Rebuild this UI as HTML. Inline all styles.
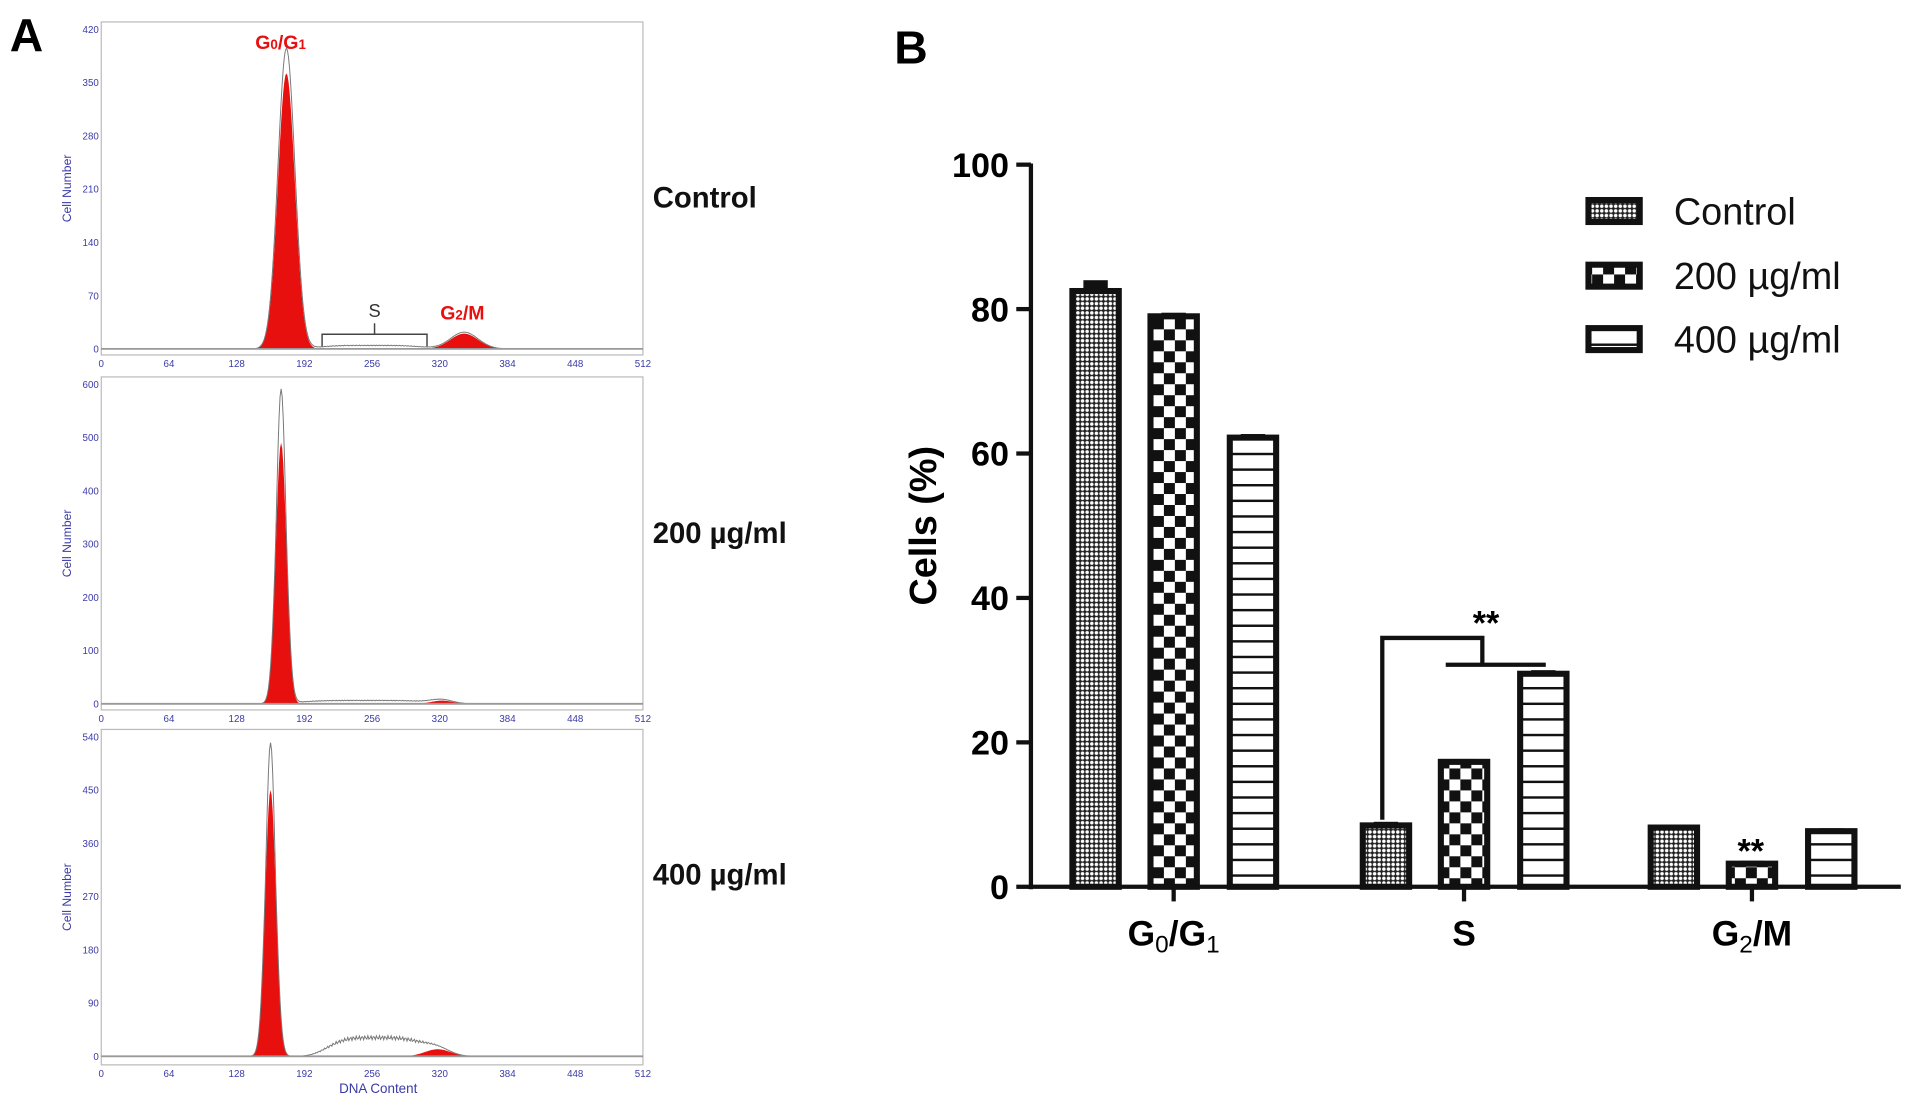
<!DOCTYPE html>
<html><head><meta charset="utf-8">
<style>
html,body{margin:0;padding:0;background:#fff;}
svg{display:block;}
</style></head>
<body>
<svg id="fig" width="1913" height="1110" viewBox="0 0 1568 910" preserveAspectRatio="none" xmlns="http://www.w3.org/2000/svg">
<defs>
  <pattern id="pCtrl" width="3.8" height="3.8" patternUnits="userSpaceOnUse">
    <rect width="3.8" height="3.8" fill="#222"/>
    <circle cx="1.9" cy="1.9" r="1.45" fill="#fff"/>
  </pattern>
  <pattern id="p200" width="18" height="18" patternUnits="userSpaceOnUse">
    <rect width="18" height="18" fill="#fff"/>
    <rect width="9" height="9" fill="#111"/>
    <rect x="9" y="9" width="9" height="9" fill="#111"/>
  </pattern>
  <pattern id="p400" width="10" height="12.8" patternUnits="userSpaceOnUse">
    <rect width="10" height="12.8" fill="#fff"/>
    <rect y="0" width="10" height="2" fill="#111"/>
  </pattern>
</defs>
<g id="panelA"></g>
<g id="panelB"></g>
</svg>
<script>
// ---------- Panel B data ----------
const categories = ["G0/G1", "S", "G2/M"];
const seriesNames = ["Control", "200 µg/ml", "400 µg/ml"];
const controlValues = [82.5, 8.5, 8.2];
const dose200Values = [79.0, 17.3, 3.2];
const dose400Values = [62.2, 29.5, 7.7];
const controlErr = [1.5, 0.5, 0.4];
const dose200Err = [0.5, 0.4, 0.4];
const dose400Err = [0.5, 0.5, 0.4];
const yTicks = [0, 20, 40, 60, 80, 100];

// ---------- Panel A data (histogram peaks: [DNA position, height, sigma]) ----------
const histLabels = ["Control", "200 µg/ml", "400 µg/ml"];
const histYMax = [420, 600, 540];
const histYStep = [70, 100, 90];
const g1Peaks = [[175, 362, 8], [170, 490, 5], [160, 450, 5]];
const g1Outline = [[175, 395, 8], [170, 590, 4.5], [160, 530, 4.5]];
const g2Peaks = [[343, 20, 13], [322, 6, 10], [318, 12, 12]];
const sPhase = [[255, 5, 55], [250, 7, 70], [260, 35, 50]];
const xTicksA = [0, 64, 128, 192, 256, 320, 384, 448, 512];

const NS = "http://www.w3.org/2000/svg";
function mk(tag, attrs, parent, text) {
  const e = document.createElementNS(NS, tag);
  for (const k in attrs) e.setAttribute(k, attrs[k]);
  if (text !== undefined) e.textContent = text;
  parent.appendChild(e);
  return e;
}

// ================= PANEL B =================
const B = document.getElementById('panelB');
const axX = 845, axY0 = 727, axY100 = 135, axRight = 1558;
const yScale = v => axY0 - (axY0 - axY100) * v / 100;
const groupCenters = [962, 1200, 1436];
const barOffsets = [-64, 0, 65];
const barW = 38;
const fills = ["url(#pCtrl)", "url(#p200)", "url(#p400)"];
const allVals = [controlValues, dose200Values, dose400Values];
const allErr = [controlErr, dose200Err, dose400Err];

let t = mk('text', {x: 733, y: 52, 'font-family': 'Liberation Sans, sans-serif', 'font-weight': 'bold', 'font-size': 38}, B, 'B');



allVals.forEach((vals, s) => {
  vals.forEach((v, c) => {
    const cx = groupCenters[c] + barOffsets[s];
    const top = yScale(v);
    const eTop = yScale(v + allErr[s][c]);
    const eb = mk('rect', {x: cx - 10, y: eTop, width: 20, height: Math.max(top - eTop + 2, 3), fill: '#111'}, B);
    
    
    const r = mk('rect', {x: cx - barW / 2, y: top, width: barW, height: axY0 - top, fill: fills[s], stroke: '#111', 'stroke-width': 5}, B);
    
    
  });
});

let a = mk('line', {x1: axX, y1: axY100 - 1, x2: axX, y2: axY0 + 2, stroke: '#111', 'stroke-width': 3.5}, B);


a = mk('line', {x1: axX - 2, y1: axY0, x2: axRight, y2: axY0, stroke: '#111', 'stroke-width': 3.5}, B);


yTicks.forEach(v => {
  const y = yScale(v);
  const l = mk('line', {x1: axX - 12, y1: y, x2: axX, y2: y, stroke: '#111', 'stroke-width': 3.5}, B);
  
  
  const tt = mk('text', {x: axX - 18, y: y + 10, 'text-anchor': 'end', 'font-family': 'Liberation Sans, sans-serif', 'font-weight': 'bold', 'font-size': 28}, B, String(v));
  
  
});
const catHtml = [["G", "0", "/G", "1"], ["S"], ["G", "2", "/M"]];
groupCenters.forEach((cx, i) => {
  const l = mk('line', {x1: cx, y1: axY0, x2: cx, y2: axY0 + 12, stroke: '#111', 'stroke-width': 3.5}, B);
  
  
  const tx = mk('text', {x: cx, y: 775, 'text-anchor': 'middle', 'font-family': 'Liberation Sans, sans-serif', 'font-weight': 'bold', 'font-size': 29}, B);
  
  
  catHtml[i].forEach((p, j) => {
    const sub = (j % 2 === 1);
    mk('tspan', sub ? {'font-size': 20, dy: 6, 'font-weight': 'normal'} : (j > 0 ? {dy: -6} : {}), tx, p);
  });
});
t = mk('text', {x: 0, y: 0, transform: 'translate(767,431) rotate(-90)', 'text-anchor': 'middle', 'font-family': 'Liberation Sans, sans-serif', 'font-weight': 'bold', 'font-size': 31}, B, 'Cells (%)');



const sig = mk('path', {d: 'M1133 672 V523 H1215 V545 M1185 545 H1267', fill: 'none', stroke: '#111', 'stroke-width': 3.5}, B);


t = mk('text', {x: 1218, y: 520, 'text-anchor': 'middle', 'font-family': 'Liberation Sans, sans-serif', 'font-weight': 'bold', 'font-size': 28}, B, '**');


t = mk('text', {x: 1435, y: 707, 'text-anchor': 'middle', 'font-family': 'Liberation Sans, sans-serif', 'font-weight': 'bold', 'font-size': 28}, B, '**');



const legY = [173, 226, 278];
seriesNames.forEach((n, i) => {
  const r = mk('rect', {x: 1302, y: legY[i] - 9, width: 42, height: 18, fill: fills[i], stroke: '#111', 'stroke-width': 5}, B);
  
  
  const tx = mk('text', {x: 1372, y: legY[i] + 11, 'font-family': 'Liberation Sans, sans-serif', 'font-size': 31, fill: '#111'}, B, n);
  
  
});

// ================= PANEL A =================
const A = document.getElementById('panelA');
t = mk('text', {x: 8, y: 42, 'font-family': 'Liberation Sans, sans-serif', 'font-weight': 'bold', 'font-size': 38}, A, 'A');


const boxes = [[18, 291, 286], [309, 582, 577], [598, 873, 866]];
const pxL = 83, pxR = 527;
const gauss = (x, p) => p[1] * Math.exp(-0.5 * Math.pow((x - p[0]) / p[2], 2));
const plateau = (x, p) => p[1] * Math.exp(-Math.pow((x - p[0]) / p[2], 4));
const labelY = [170, 445, 725];
boxes.forEach((b, i) => {
  const [top, bot, base] = b;
  const xs = v => pxL + (pxR - pxL) * v / 512;
  const ys = v => base - (base - top - 6) * v / histYMax[i];
  const g = mk('g', {}, A);
  
  
  const bx = mk('rect', {x: pxL, y: top, width: pxR - pxL, height: bot - top, fill: '#fff', stroke: '#bbb', 'stroke-width': 1}, g);
  
  
  let d = 'M' + xs(0) + ' ' + base;
  let d2 = 'M' + xs(0) + ' ' + base;
  let d3 = 'M' + xs(0) + ' ' + base;
  for (let x = 0; x <= 512; x += 1) {
    d += ' L' + xs(x).toFixed(2) + ' ' + ys(gauss(x, g1Peaks[i])).toFixed(2);
    d2 += ' L' + xs(x).toFixed(2) + ' ' + ys(gauss(x, g2Peaks[i])).toFixed(2);
    const sv = plateau(x, sPhase[i]) * (0.9 + 0.1 * Math.sin(x * 2.3));
    const tot = Math.max(gauss(x, g1Outline[i]), gauss(x, g1Peaks[i]) * 1.05) + gauss(x, g2Peaks[i]) * 1.1 + sv;
    d3 += ' L' + xs(x).toFixed(2) + ' ' + ys(tot).toFixed(2);
  }
  d += ' Z'; d2 += ' Z';
  let p = mk('path', {d: d, fill: '#e8100f'}, g);
  
  
  p = mk('path', {d: d2, fill: '#e8100f'}, g);
  
  
  p = mk('path', {d: d3, fill: 'none', stroke: '#777', 'stroke-width': 0.8}, g);
  
  
  const bl = mk('line', {x1: pxL, y1: base, x2: pxR, y2: base, stroke: '#999', 'stroke-width': 1.5}, g);
  
  
  for (let v = 0; v <= histYMax[i]; v += histYStep[i]) {
    const ty = mk('text', {x: pxL - 2, y: ys(v) + 3, 'text-anchor': 'end', 'font-family': 'Liberation Sans, sans-serif', 'font-size': 8, fill: '#3a3aa8'}, g, String(v));
    
    
  }
  xTicksA.forEach(v => {
    const tx = mk('text', {x: xs(v), y: bot + 10, 'text-anchor': 'middle', 'font-family': 'Liberation Sans, sans-serif', 'font-size': 8, fill: '#3a3aa8'}, g, String(v));
    
    
  });
  const yt = mk('text', {x: 0, y: 0, transform: 'translate(58,' + ((top + bot) / 2) + ') rotate(-90)', 'text-anchor': 'middle', 'font-family': 'Liberation Sans, sans-serif', 'font-size': 10, fill: '#3a3aa8'}, g, 'Cell Number');
  
  
  const lb = mk('text', {x: 535, y: labelY[i], 'font-family': 'Liberation Sans, sans-serif', 'font-weight': 'bold', 'font-size': 24, fill: '#111'}, A, histLabels[i]);
  
  
});
t = mk('text', {x: 310, y: 896, 'text-anchor': 'middle', 'font-family': 'Liberation Sans, sans-serif', 'font-size': 11, fill: '#3a3aa8'}, A, 'DNA Content');


t = mk('text', {x: 230, y: 40, 'text-anchor': 'middle', 'font-family': 'Liberation Sans, sans-serif', 'font-weight': 'bold', 'font-size': 16, fill: '#e8100f'}, A);


mk('tspan', {}, t, 'G'); mk('tspan', {'font-size': 11}, t, '0'); mk('tspan', {}, t, '/G'); mk('tspan', {'font-size': 11}, t, '1');
t = mk('text', {x: 379, y: 262, 'text-anchor': 'middle', 'font-family': 'Liberation Sans, sans-serif', 'font-weight': 'bold', 'font-size': 16, fill: '#e8100f'}, A);


mk('tspan', {}, t, 'G'); mk('tspan', {'font-size': 11}, t, '2'); mk('tspan', {}, t, '/M');
t = mk('path', {d: 'M264 284 V274 H350 V284 M307 274 V265', fill: 'none', stroke: '#444', 'stroke-width': 1.2}, A);


t = mk('text', {x: 307, y: 260, 'text-anchor': 'middle', 'font-family': 'Liberation Sans, sans-serif', 'font-size': 15, fill: '#333'}, A, 'S');


</script>
</body></html>
